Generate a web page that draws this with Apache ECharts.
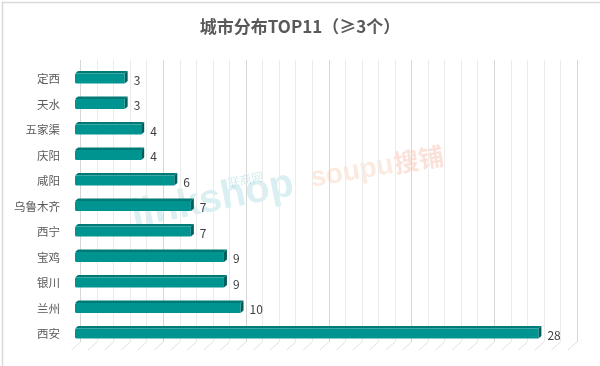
<!DOCTYPE html>
<html><head><meta charset="utf-8">
<script src="https://cdn.jsdelivr.net/npm/echarts@6/dist/echarts.min.js"></script>
<style>html,body{margin:0;padding:0;background:#fff}#c{width:600px;height:366px}</style>
</head><body><div id="c"></div>
<script>
const titleText = '城市分布TOP11（≥3个）';
const cities = ['定西','天水','五家渠','庆阳','咸阳','乌鲁木齐','西宁','宝鸡','银川','兰州','西安'];
const counts = [3,3,4,4,6,7,7,9,9,10,28];
const axisMax = 30;
const floorTicks = [0,1,2,3,4,5,6,7,8,9,10,11,12,13,14,15,16,17,18,19,20,21,22,23,24,25,26,27,28,29,30];

const FONT = '"Noto Sans CJK SC","Microsoft YaHei",sans-serif';
const chart = echarts.init(document.getElementById('c'), null, {renderer:'canvas'});

chart.setOption({
  backgroundColor:'#fff',
  animation:false,
  title:{text:titleText,left:'center',top:13,textStyle:{fontFamily:FONT,fontSize:17,fontWeight:'bold',color:'#595959'}},
  graphic:[
    {type:'rect',left:0,top:0,shape:{width:599,height:365},style:{fill:'none',stroke:'#d9d9d9',lineWidth:1.5},z:-1},
    {type:'text',x:136,y:236,rotation:0.2,style:{text:'linkshop',verticalAlign:'bottom',font:'bold 40px "Liberation Sans",sans-serif',fill:'rgba(0,150,160,0.15)'},z:0},
    {type:'text',x:229,y:189,rotation:0.2,style:{text:'联商网',verticalAlign:'bottom',font:'12px '+FONT,fill:'rgba(0,150,160,0.18)'},z:0},
    {type:'text',x:313,y:193,rotation:0.17,style:{text:'soupu',verticalAlign:'bottom',font:'bold 28px "Liberation Sans",sans-serif',fill:'rgba(240,150,100,0.2)'},z:0},
    {type:'text',x:396,y:176,rotation:0.17,style:{text:'搜铺',verticalAlign:'bottom',font:'bold 25px '+FONT,fill:'rgba(240,130,90,0.24)'},z:0}
  ],
  grid:[
    {left:75,right:28.5,top:66.25,bottom:19.25},
    {left:80.5,right:23,top:60,bottom:24}
  ],
  xAxis:[
    {gridIndex:0,type:'value',min:0,max:axisMax,interval:5,show:false},
    {gridIndex:1,type:'value',min:0,max:axisMax,interval:5,
     axisLine:{show:false},axisTick:{show:false},axisLabel:{show:false},
     splitLine:{show:true,lineStyle:{color:'#d6d6d6',width:1}},
     minorTick:{show:false,splitNumber:5},
     minorSplitLine:{show:true,lineStyle:{color:'#ebebeb',width:1}}}
  ],
  yAxis:[
    {gridIndex:0,type:'category',data:cities,inverse:true,
     axisLine:{show:false},axisTick:{show:false},splitLine:{show:false},
     axisLabel:{margin:15,fontSize:11.5,color:'#595959',fontFamily:FONT}},
    {gridIndex:1,type:'value',min:0,max:1,show:false}
  ],
  series:[
    {type:'custom',xAxisIndex:1,yAxisIndex:1,data:floorTicks.map(t=>[t,0]),silent:true,z:1,
     renderItem:function(params,api){
       const p=api.coord([api.value(0),0]);
       return {type:'line',shape:{x1:p[0],y1:p[1],x2:p[0]-9,y2:p[1]+8},style:{stroke:'#e0e0e0',lineWidth:1}};
     }},
    {type:'custom',xAxisIndex:0,yAxisIndex:0,z:5,
     data:counts.map((v,i)=>[v,i]),
     renderItem:function(params,api){
       const v=api.value(0), ci=api.value(1);
       const p0=api.coord([0,ci]), p1=api.coord([v,ci]);
       const c=p0[1], x0=p0[0], x1=p1[0];
       const d=3, th=2.5, top=c-5.5, bot=c+4.5;
       return {type:'group',children:[
         {type:'polygon',shape:{points:[[x0,top],[x0+d,top-th],[x1+d,top-th],[x1,top]]},style:{fill:'#007a77'}},
         {type:'polygon',shape:{points:[[x1,top],[x1+d,top-th],[x1+d,bot-th],[x1,bot]]},style:{fill:'#005f5c'}},
         {type:'rect',shape:{x:x0,y:top,width:x1-x0,height:bot-top,r:[1.5,0,0,1.5]},style:{fill:'#009490'}},
         {type:'text',style:{text:String(v),x:x1+d+6,y:c+1,verticalAlign:'middle',align:'left',
           font:'12px '+FONT,fill:'#404040'}}
       ]};
     }}
  ]
});
</script></body></html>
